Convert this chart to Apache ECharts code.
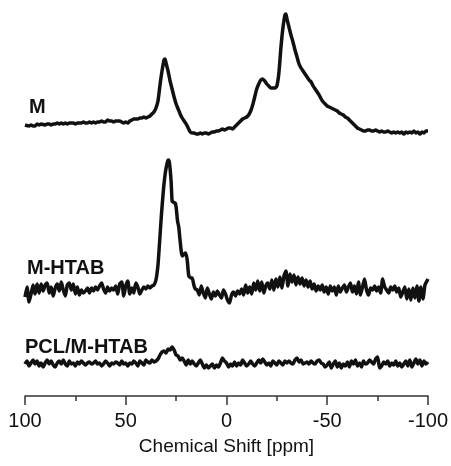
<!DOCTYPE html>
<html><head><meta charset="utf-8">
<script src="https://cdn.jsdelivr.net/npm/echarts@6/dist/echarts.min.js"></script>
<style>html,body{margin:0;padding:0;background:#fff}#c{width:451px;height:466px}</style>
</head><body><div id="c"></div>
<script>
// Spectrum M: [ppm, intensity above its own baseline]
const specM = [[100,8],[98,7],[97,8],[96,7],[95,7],[94,9],[93,8],[92,9],[90,8],[89,9],[88,9],[87,8],[86,9],[85,9],[84,10],[83,9],[82,10],[81,9],[80,10],[79,9],[78,10],[77,10],[76,10],[75,9],[74,10],[73,10],[72,10],[71,11],[70,10],[69,10],[68,11],[67,10],[66,11],[65,10],[64,11],[63,11],[62,12],[61,11],[60,11],[59,13],[58,12],[57,12],[56,11],[55,12],[54,12],[53,12],[52,11],[51,10],[50,11],[49,10],[48,12],[47,13],[46,14],[45,14],[44,14],[43,15],[42,15],[41,16],[40,15],[39,16],[38,17],[37,19],[36,21],[35,25],[34,32],[33,48],[32,62],[31,73],[30.5,74],[30,70],[29,62],[28,52],[27,44],[26,36],[25,29],[24,24],[23,19],[22,15],[21,12],[20,9],[19,5],[18,1],[17,0],[16,0],[15,-1],[14,-1],[13,0],[12,-1],[11,0],[10,0],[9,-1],[8,0],[7,1],[6,1],[5,2],[4,2],[3,3],[2,4],[1,3],[0,4],[-1,5],[-2,5],[-3,4],[-4,6],[-5,8],[-6,10],[-7,12],[-8,14],[-9,15],[-10,16],[-11,18],[-12,22],[-13,28],[-14,36],[-15,44],[-16,49],[-17,53],[-18,54],[-19,52],[-20,49],[-21,47],[-22,45],[-23,45],[-24,45],[-25,47],[-26,60],[-27,85],[-28,105],[-29,118],[-29.5,119],[-30,114],[-31,106],[-32,98],[-33,91],[-34,83],[-35,76],[-36,69],[-37,65],[-38,62],[-39,59],[-40,56],[-41,53],[-42,51],[-43,47],[-44,44],[-45,41],[-46,38],[-47,34],[-48,31],[-49,29],[-50,27],[-51,26],[-52,25],[-53,24],[-54,23],[-55,22],[-56,20],[-57,19],[-58,18],[-59,16],[-60,15],[-61,13],[-62,11],[-63,9],[-64,7],[-65,5],[-66,4],[-67,3],[-68,2],[-69,2],[-70,3],[-71,3],[-72,2],[-73,2],[-74,3],[-75,2],[-76,1],[-77,2],[-78,1],[-79,1],[-80,2],[-81,1],[-82,0],[-83,1],[-84,0],[-85,1],[-86,0],[-87,1],[-88,-1],[-89,1],[-90,0],[-91,1],[-92,0],[-93,2],[-94,0],[-95,1],[-96,-1],[-97,1],[-98,0],[-99,2],[-100,2]];

// Spectrum M-HTAB
const specMHTAB = [[100,-6],[99,4],[98,-11],[97,-3],[96,6],[95,-3],[94,7],[93,-2],[92,7],[91,0],[90,6],[89,8],[88,-2],[87,4],[86,-5],[85,3],[84,7],[83,0],[82,9],[81,1],[80,-5],[79,6],[78,8],[77,1],[76,7],[75,-3],[74,4],[73,-4],[72,1],[71,-2],[70,0],[69,3],[68,-2],[67,3],[66,0],[65,4],[64,1],[63,5],[62,8],[61,2],[60,-2],[59,4],[58,0],[57,3],[56,1],[55,5],[54,-3],[53,7],[52,9],[51,-5],[50,5],[49,10],[48,-3],[47,3],[46,-2],[45,8],[44,4],[43,-3],[42,1],[41,4],[40,2],[39,5],[38,3],[37,5],[36,6],[35,11],[34,26],[33.3,46],[32.3,76],[31.3,101],[30.3,119],[29.3,129],[28.8,131],[28.3,128],[27.5,110],[27,90],[26.5,89],[25.5,88],[25,84],[24.3,70],[23.7,64],[23,50],[22,35],[21,37],[20.3,38],[19.5,31],[18.7,15],[17.5,13],[17,13],[16.2,6],[15.5,2],[14.5,1],[13.5,-4],[12.5,5],[11.5,-2],[10.5,-7],[9.5,3],[8.5,-3],[7.5,-8],[6.5,-1],[5.5,-5],[4.5,0],[3.5,-4],[2.5,-7],[1.5,1],[0.5,-3],[-0.5,-9],[-1.5,-12],[-2.5,-4],[-3.5,-1],[-4.5,-5],[-5.5,0],[-6.5,-3],[-7.5,2],[-8.5,-4],[-9.5,6],[-10.5,-2],[-11.5,4],[-12.5,-3],[-13.5,8],[-14.5,1],[-15.5,10],[-16.5,0],[-17.5,9],[-18.5,-2],[-19.5,5],[-20.5,8],[-21.5,2],[-22.5,11],[-23.5,1],[-24.5,12],[-25.5,4],[-26.5,14],[-27.5,3],[-28.5,15],[-29.5,20],[-30.5,5],[-31.5,17],[-32.5,9],[-33.5,16],[-34.5,6],[-35.5,14],[-36.5,7],[-37.5,13],[-38.5,5],[-39.5,11],[-40.5,4],[-41.5,10],[-42.5,2],[-43.5,7],[-44.5,0],[-45.5,5],[-46.5,1],[-47.5,6],[-48.5,-1],[-49.5,4],[-50.5,-3],[-51.5,5],[-52.5,0],[-53.5,4],[-54.5,-4],[-55.5,5],[-56.5,-1],[-57.5,3],[-58.5,6],[-59.5,-1],[-60.5,4],[-61.5,8],[-62.5,-1],[-63.5,5],[-64.5,-3],[-65.5,9],[-66.5,-4],[-67.5,4],[-68.5,12],[-69.5,1],[-70.5,-4],[-71.5,3],[-72.5,1],[-73.5,5],[-74.5,0],[-75.5,4],[-76.5,-2],[-77.5,12],[-78.5,4],[-79.5,1],[-80.5,-2],[-81.5,4],[-82.5,1],[-83.5,5],[-84.5,-1],[-85.5,3],[-86.5,-6],[-87.5,-1],[-88.5,4],[-89.5,-8],[-90.5,2],[-91.5,-9],[-92.5,3],[-93.5,-7],[-94.5,5],[-95.5,-10],[-96.5,4],[-97.5,-8],[-98.5,6],[-99.5,10],[-100,12]];

// Spectrum PCL/M-HTAB
const specPCL = [[100,0],[99,3],[98,-2],[97,1],[96,4],[95,0],[94,3],[93,-2],[92,1],[91,-3],[90,1],[89,4],[88,0],[87,3],[86,-1],[85,-3],[84,1],[83,3],[82,0],[81,4],[80,0],[79,-2],[78,3],[77,0],[76,1],[75,-2],[74,2],[73,0],[72,3],[71,1],[70,-1],[69,1],[68,2],[67,0],[66,1],[65,3],[64,0],[63,1],[62,-2],[61,0],[60,3],[59,1],[58,-2],[57,1],[56,0],[55,2],[54,1],[53,-1],[52,3],[51,0],[50,1],[49,-2],[48,1],[47,0],[46,3],[45,1],[44,-2],[43,3],[42,1],[41,-1],[40,4],[39,2],[38,1],[37,4],[36,2],[35,3],[34,5],[33,9],[32,12],[31,13],[30,11],[29,15],[28,14],[27,17],[26,14],[25,9],[24,8],[23,4],[22,6],[21,3],[20,-1],[19,4],[18,0],[17,3],[16,0],[15,-2],[14,1],[13,4],[12,0],[11,-4],[10,-1],[9,-4],[8,-2],[7,0],[6,-4],[5,-1],[4,-3],[3,1],[2,6],[1,3],[0,1],[-1,-3],[-2,0],[-3,-2],[-4,2],[-5,-2],[-6,1],[-7,-1],[-8,4],[-9,1],[-10,-2],[-11,0],[-12,3],[-13,0],[-14,-2],[-15,1],[-16,4],[-17,1],[-18,5],[-19,2],[-20,-1],[-21,1],[-22,-2],[-23,3],[-24,1],[-25,-1],[-26,3],[-27,1],[-28,-1],[-29,3],[-30,1],[-31,3],[-32,1],[-33,0],[-34,4],[-35,6],[-36,2],[-37,4],[-38,0],[-39,1],[-40,2],[-41,0],[-42,3],[-43,1],[-44,0],[-45,3],[-46,4],[-47,1],[-48,0],[-49,-3],[-50,-1],[-51,2],[-52,-4],[-53,0],[-54,3],[-55,-3],[-56,1],[-57,-4],[-58,0],[-59,-2],[-60,2],[-61,-3],[-62,3],[-63,0],[-64,4],[-65,-2],[-66,1],[-67,-3],[-68,3],[-69,0],[-70,1],[-71,4],[-72,2],[-73,0],[-74,5],[-75,7],[-76,-4],[-77,-2],[-78,2],[-79,0],[-80,3],[-81,-2],[-82,1],[-83,-1],[-84,3],[-85,-2],[-86,1],[-87,-3],[-88,0],[-89,3],[-90,-2],[-91,4],[-92,-3],[-93,1],[-94,5],[-95,0],[-96,4],[-97,-2],[-98,3],[-99,0],[-100,2]];

const seriesNames = ['M', 'M-HTAB', 'PCL/M-HTAB'];
const xTicks = [100, 50, 0, -50, -100];
const xTitle = 'Chemical Shift [ppm]';

// vertical stacking offsets (layout only)
const offsets = [263, 105, 32];
const specs = [specM, specMHTAB, specPCL];
const labelPos = [[29, 107], [27, 268], [25, 347]];

const FONT = '"Liberation Sans", Arial, sans-serif';
const chart = echarts.init(document.getElementById('c'), null, {renderer: 'canvas'});
chart.setOption({
  animation: false,
  backgroundColor: '#fff',
  grid: {left: 25, right: 23, top: 0, bottom: 70, containLabel: false},
  xAxis: {
    type: 'value', inverse: true, min: -100, max: 100, interval: 50,
    axisLine: {show: true, lineStyle: {color: '#333', width: 1.5}},
    axisTick: {show: true, length: 9, lineStyle: {color: '#333', width: 1.5}},
    minorTick: {show: true, splitNumber: 2, length: 5, lineStyle: {color: '#333', width: 1.5}},
    splitLine: {show: false},
    axisLabel: {color: '#111', fontSize: 20, fontFamily: FONT, margin: 15,
      formatter: v => xTicks.includes(v) ? String(v) : ''},
    name: xTitle, nameLocation: 'middle', nameGap: 41,
    nameTextStyle: {color: '#111', fontSize: 19, fontFamily: FONT}
  },
  yAxis: {type: 'value', min: 0, max: 396, show: false},
  graphic: seriesNames.map((n, i) => ({
    type: 'text', left: labelPos[i][0], top: labelPos[i][1] - 10,
    style: {text: n, font: 'bold 20px ' + FONT, fill: '#111'}
  })),
  series: specs.map((s, i) => ({
    name: seriesNames[i], type: 'line', showSymbol: false, smooth: 0.2,
    lineStyle: {color: '#111', width: 3.5},
    data: s.map(p => [p[0], p[1] + offsets[i]])
  }))
});
</script></body></html>
